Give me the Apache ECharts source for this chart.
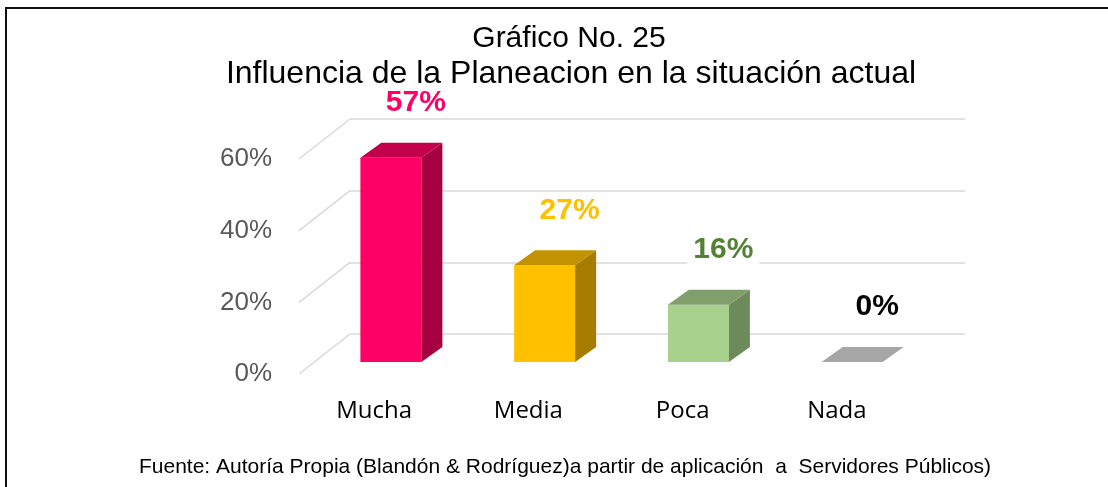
<!DOCTYPE html>
<html lang="es">

<head>
    <meta charset="UTF-8">
    <title>Gráfico No. 25</title>
    <script src="https://cdnjs.cloudflare.com/ajax/libs/echarts/6.0.0/echarts.min.js"></script>
    <style>
        html, body { margin: 0; padding: 0; background: #fff; }
        #main { width: 1108px; height: 487px; }
    </style>
</head>

<body>
    <div id="main"></div>
</body>
<script>
    // datos del grafico
    var categorias = ['Mucha', 'Media', 'Poca', 'Nada'];
    var valores = [57, 27, 16, 0];
    var etiquetas = ['57%', '27%', '16%', '0%'];
    var ticksY = [0, 20, 40, 60];

    // colores de cada barra: frente, lado, tapa, etiqueta
    var colFrente = ['#ff0066', '#ffc000', '#a9d18e', '#a6a6a6'];
    var colLado = ['#a5003f', '#a67c00', '#6d8a5a', '#a6a6a6'];
    var colTapa = ['#c2004c', '#c39200', '#819f6c', '#a6a6a6'];
    var colEtiqueta = ['#ff0066', '#ffc000', '#548235', '#000000'];

    // profundidad del efecto 3D
    var PROF_X = 51, PROF_Y = 40;     // pared del fondo -> borde frontal del piso
    var BARRA_X = 36, BARRA_Y = 28;   // pared del fondo -> cara frontal de la barra
    var LADO_X = 21, LADO_Y = 15;     // grosor de la barra
    var ANCHO = 61;

    var chart = echarts.init(document.getElementById('main'));

    function dibujarBarra(params, api) {
        var i = params.dataIndex;
        var v = api.value(1);
        var base = api.coord([i, 0]);
        var tope = api.coord([i, v]);
        var cx = base[0] - BARRA_X;
        var L = cx - ANCHO / 2;
        var R = L + ANCHO;
        var yb = base[1] + BARRA_Y;
        var yt = tope[1] + BARRA_Y;
        var hijos = [];
        if (v > 0) {
            hijos.push({
                type: 'rect',
                shape: { x: L, y: yt, width: ANCHO, height: yb - yt },
                style: { fill: colFrente[i] }
            });
            hijos.push({
                type: 'polygon',
                shape: { points: [[R, yt], [R + LADO_X, yt - LADO_Y], [R + LADO_X, yb - LADO_Y], [R, yb]] },
                style: { fill: colLado[i] }
            });
        }
        hijos.push({
            type: 'polygon',
            shape: { points: [[L, yt], [L + LADO_X, yt - LADO_Y], [R + LADO_X, yt - LADO_Y], [R, yt]] },
            style: { fill: colTapa[i] }
        });
        hijos.push({
            type: 'text',
            z2: 10,
            style: {
                text: etiquetas[i],
                x: cx + 25,
                y: yt - LADO_Y - 40,
                fill: colEtiqueta[i],
                font: 'bold 30px "Liberation Sans", Arial, sans-serif',
                align: 'center',
                verticalAlign: 'middle',
                backgroundColor: '#ffffff',
                padding: [0, 6]
            }
        });
        return { type: 'group', children: hijos };
    }

    function dibujarDiagonal(params, api) {
        var p = api.coord([0, api.value(1)]);
        var banda = api.size([1, 0])[0];
        var x0 = p[0] - banda / 2;
        return {
            type: 'line',
            shape: { x1: x0, y1: p[1], x2: x0 - PROF_X, y2: p[1] + PROF_Y },
            style: { stroke: '#d9d9d9', lineWidth: 1.5 }
        };
    }

    var option = {
        animation: false,
        backgroundColor: '#ffffff',
        grid: [
            // pared del fondo
            { left: 350, right: 143, top: 119, bottom: 153 },
            // plano frontal (etiquetas de ejes)
            { left: 297, right: 194, top: 159, bottom: 113 }
        ],
        xAxis: [
            { type: 'category', gridIndex: 0, data: categorias, show: false },
            {
                type: 'category', gridIndex: 1, data: categorias,
                axisLine: { show: false }, axisTick: { show: false },
                axisLabel: { color: '#000', fontSize: 24, fontFamily: '"Open Sans", sans-serif', margin: 25 }
            }
        ],
        yAxis: [
            {
                type: 'value', gridIndex: 0, min: 0, max: 60, interval: 20,
                axisLabel: { show: false }, axisLine: { show: false }, axisTick: { show: false },
                splitLine: { lineStyle: { color: '#d9d9d9', width: 1.5 } }
            },
            {
                type: 'value', gridIndex: 1, min: 0, max: 60, interval: 20,
                axisLine: { show: false }, axisTick: { show: false }, splitLine: { show: false },
                axisLabel: {
                    formatter: '{value}%', color: '#595959', fontSize: 26,
                    fontFamily: '"Liberation Sans", Arial, sans-serif', margin: 25
                }
            }
        ],
        graphic: [
            { type: 'line', shape: { x1: 5, y1: 8, x2: 1108, y2: 8 }, style: { stroke: '#111', lineWidth: 2 } },
            { type: 'line', shape: { x1: 6, y1: 8, x2: 6, y2: 487 }, style: { stroke: '#111', lineWidth: 2 } },
            {
                type: 'text',
                style: {
                    text: 'Gráfico No. 25', x: 569, y: 39, fill: '#000',
                    font: '30px "Liberation Sans", Arial, sans-serif', align: 'center', verticalAlign: 'middle'
                }
            },
            {
                type: 'text',
                style: {
                    text: 'Influencia de la Planeacion en la situación actual', x: 571, y: 74, fill: '#000',
                    font: '32px "Liberation Sans", Arial, sans-serif', align: 'center', verticalAlign: 'middle'
                }
            },
            {
                type: 'text',
                style: {
                    text: 'Fuente: Autoría Propia (Blandón & Rodríguez)a partir de aplicación  a  Servidores Públicos)',
                    x: 565, y: 467, fill: '#000',
                    font: '21px "Liberation Sans", Arial, sans-serif', align: 'center', verticalAlign: 'middle'
                }
            }
        ],
        series: [
            {
                type: 'custom', xAxisIndex: 0, yAxisIndex: 0,
                data: ticksY.map(function (t) { return [0, t]; }),
                renderItem: dibujarDiagonal, silent: true, z: 1
            },
            {
                type: 'custom', xAxisIndex: 0, yAxisIndex: 0,
                data: valores.map(function (v, i) { return [i, v]; }),
                renderItem: dibujarBarra, z: 5
            }
        ]
    };

    chart.setOption(option);
</script>

</html>
